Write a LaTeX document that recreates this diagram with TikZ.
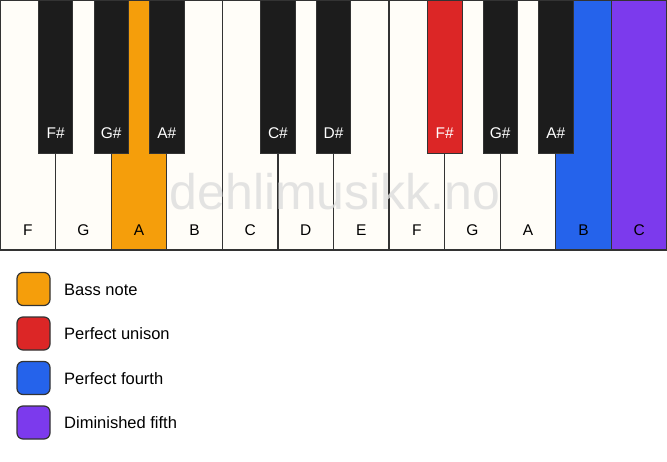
\documentclass[tikz,border=0pt]{standalone}
\usepackage{fontspec}
\setmainfont{Liberation Sans}
\definecolor{keyw}{HTML}{FFFDF8}
\definecolor{keyb}{HTML}{1C1C1C}
\definecolor{keyline}{HTML}{333333}
\definecolor{corange}{HTML}{F59E0B}
\definecolor{cred}{HTML}{DC2626}
\definecolor{cblue}{HTML}{2563EB}
\definecolor{cpurple}{HTML}{7C3AED}
\definecolor{wmark}{HTML}{DDDDDD}
\begin{document}
\begin{tikzpicture}[x=1pt,y=-1pt,
  whitekey/.style={draw=keyline,line width=1.2pt,fill=keyw},
  blackkey/.style={draw=keyline,line width=0.8pt,fill=keyb},
  wlabel/.style={font=\fontsize{15.5}{18}\selectfont,text=black},
  blabel/.style={font=\fontsize{15.5}{18}\selectfont,text=white},
  legbox/.style={draw=keyline,line width=1.2pt,rounded corners=6pt,minimum width=33pt,minimum height=33pt,inner sep=0pt},
  legtext/.style={font=\fontsize{16.5}{19}\selectfont,anchor=west,inner sep=0pt}]
\useasboundingbox (0,0) rectangle (667,461);
\fill[white] (0,0) rectangle (667,461);
\def\w{55.583}
% white keys
\foreach \i/\n/\c in {0/F/keyw,1/G/keyw,2/A/corange,3/B/keyw,4/C/keyw,5/D/keyw,6/E/keyw,7/F/keyw,8/G/keyw,9/A/keyw,10/B/cblue,11/C/cpurple}{
  \draw[whitekey,fill=\c] (\i*\w,0) rectangle ({(\i+1)*\w},250);
  \node[wlabel] (w\i) at ({(\i+0.5)*\w},230) {\n};
}
% watermark
\node[font=\fontsize{50}{60}\selectfont,text=wmark,opacity=0.8] (wm) at (335,192) {dehlimusikk.no};
% black keys
\foreach \i/\n/\c in {1/F\#/keyb,2/G\#/keyb,3/A\#/keyb,5/C\#/keyb,6/D\#/keyb,8/F\#/cred,9/G\#/keyb,10/A\#/keyb}{
  \draw[blackkey,fill=\c] ({\i*\w-17.25},0) rectangle ({\i*\w+17.25},153);
  \node[blabel] (b\i) at ({\i*\w},133) {\n};
}
% legend
\foreach \k/\c/\t in {0/corange/Bass note,1/cred/Perfect unison,2/cblue/Perfect fourth,3/cpurple/Diminished fifth}{
  \node[legbox,fill=\c] (lb\k) at (33.5,{289+\k*44.5}) {};
  \node[legtext] (lt\k) at (64,{289.5+\k*44.5}) {\t};
}
\end{tikzpicture}
\end{document}
